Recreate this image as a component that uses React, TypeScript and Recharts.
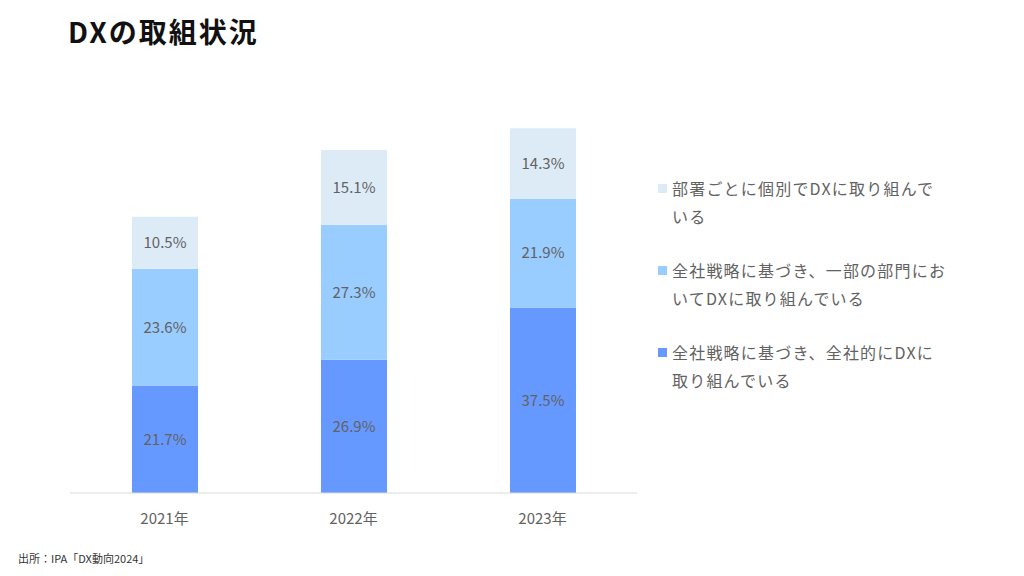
import React from 'react';
import { BarChart, Bar, XAxis, YAxis, LabelList } from 'recharts';

const years = ['2021年', '2022年', '2023年'];
const companyWide = [21.7, 26.9, 37.5];
const partialDept = [23.6, 27.3, 21.9];
const individual = [10.5, 15.1, 14.3];

const seriesNames = [
  '全社戦略に基づき、全社的にDXに取り組んでいる',
  '全社戦略に基づき、一部の部門においてDXに取り組んでいる',
  '部署ごとに個別でDXに取り組んでいる',
];
const legendLines: string[][] = [
  ['全社戦略に基づき、全社的にDXに', '取り組んでいる'],
  ['全社戦略に基づき、一部の部門にお', 'いてDXに取り組んでいる'],
  ['部署ごとに個別でDXに取り組んで', 'いる'],
];
const colors = ['#6699FF', '#99CCFF', '#DDEBF7'];

const data = years.map((y, i) => ({
  year: y,
  a: companyWide[i],
  b: partialDept[i],
  c: individual[i],
}));

const FONT = '"Noto Sans CJK JP", "Noto Sans", sans-serif';
const TEXT = '#626262';

const fmt = (v: any) => `${v}%`;

export default function App() {
  const legendOrder = [2, 1, 0];
  return (
    <div style={{ position: 'absolute', left: 0, top: 0, width: 1024, height: 576, background: '#fff', fontFamily: FONT }}>
      <div style={{ position: 'absolute', left: 68, top: 11, fontSize: 28, fontWeight: 700, color: '#111', lineHeight: '40px', letterSpacing: 2 }}>
        DXの取組状況
      </div>
      <BarChart
        width={1024}
        height={576}
        data={data}
        margin={{ top: 97, left: 70, right: 387, bottom: 53 }}
      >
        <XAxis
          dataKey="year"
          height={30}
          axisLine={{ stroke: '#D9D9D9' }}
          tickLine={false}
          tickMargin={14}
          tick={{ fill: TEXT, fontSize: 15, fontFamily: FONT }}
        />
        <YAxis hide domain={[0, 80]} />
        <Bar dataKey="a" name={seriesNames[0]} stackId="s" fill={colors[0]} barSize={66} isAnimationActive={false}>
          <LabelList dataKey="a" position="center" formatter={fmt} fill={TEXT} fontSize={15} fontFamily={FONT} />
        </Bar>
        <Bar dataKey="b" name={seriesNames[1]} stackId="s" fill={colors[1]} barSize={66} isAnimationActive={false}>
          <LabelList dataKey="b" position="center" formatter={fmt} fill={TEXT} fontSize={15} fontFamily={FONT} />
        </Bar>
        <Bar dataKey="c" name={seriesNames[2]} stackId="s" fill={colors[2]} barSize={66} isAnimationActive={false}>
          <LabelList dataKey="c" position="center" formatter={fmt} fill={TEXT} fontSize={15} fontFamily={FONT} />
        </Bar>
      </BarChart>
      <div style={{ position: 'absolute', left: 658, top: 174 }}>
        {legendOrder.map((si, idx) => (
          <div key={si} style={{ position: 'relative', marginBottom: idx < 2 ? 26 : 0 }}>
            <div style={{ position: 'absolute', left: 0, top: 10, width: 9, height: 9, background: colors[si] }} />
            {legendLines[si].map((line, j) => (
              <div key={j} style={{ marginLeft: 14, fontSize: 16, lineHeight: '28px', color: TEXT, whiteSpace: 'nowrap', letterSpacing: 1.2 }}>
                {line}
              </div>
            ))}
          </div>
        ))}
      </div>
      <div style={{ position: 'absolute', left: 18, top: 550, fontSize: 11, color: '#333' }}>
        出所：IPA「DX動向2024」
      </div>
    </div>
  );
}
